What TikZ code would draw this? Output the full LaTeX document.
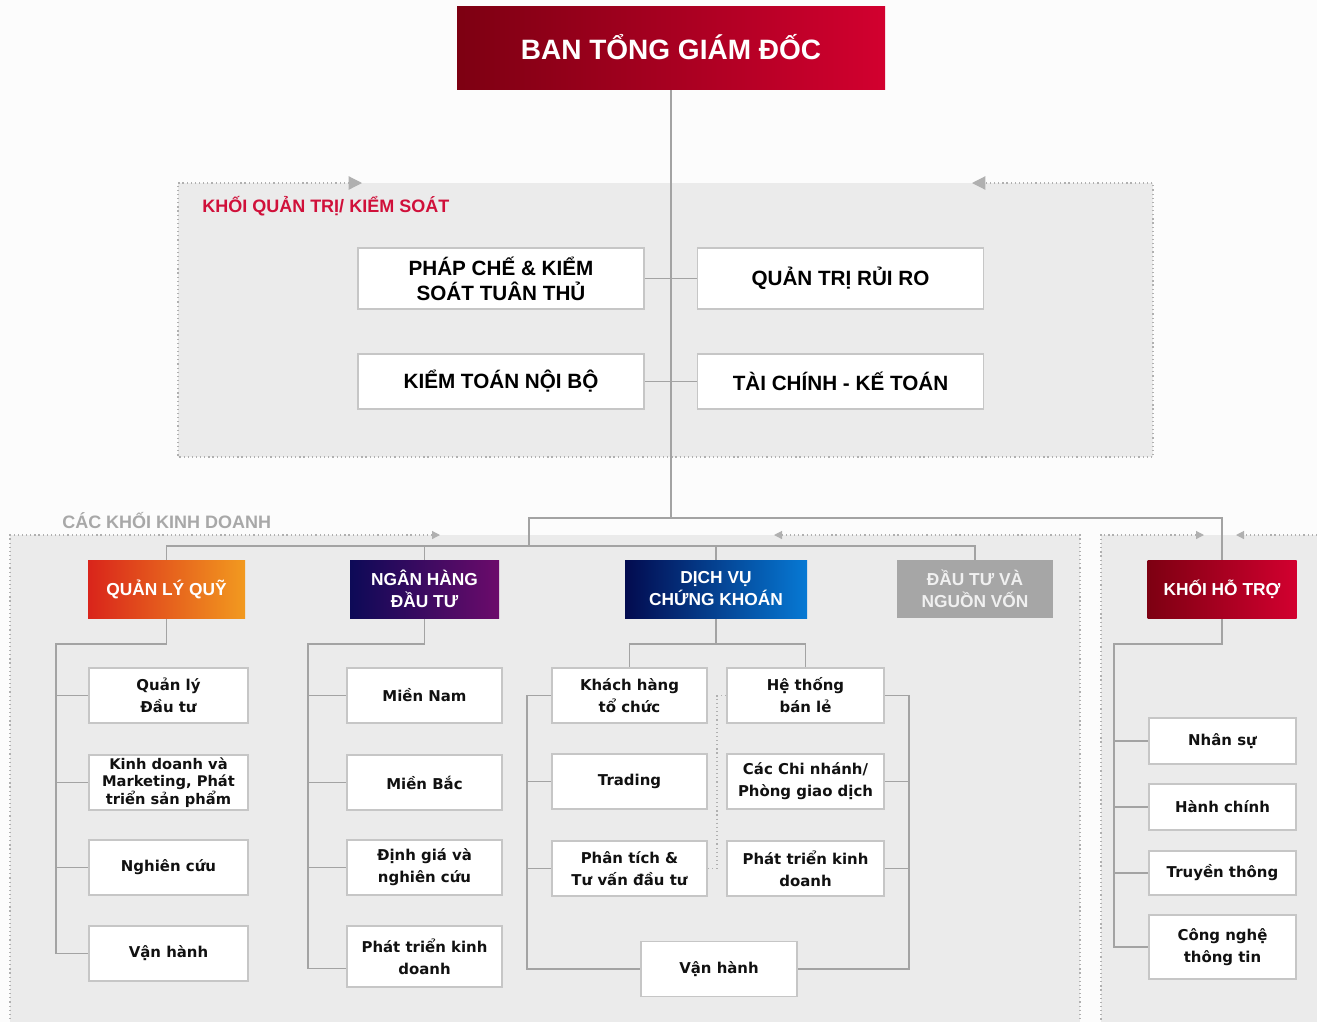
\documentclass[tikz,border=0pt]{standalone}
\usepackage{fontspec}
\setmainfont{Liberation Sans}
\newfontfamily\unitfont{DejaVu Sans}
\usepackage{xcolor}
\usepackage{tikz}
\usetikzlibrary{arrows.meta, calc, backgrounds}
\definecolor{pagebg}{HTML}{FCFCFC}
\definecolor{panelgrey}{HTML}{EBEBEB}
\definecolor{dotgrey}{HTML}{B0B0B0}
\definecolor{linkgrey}{HTML}{A3A3A3}
\definecolor{boxgrey}{HTML}{C6C6C6}
\definecolor{darkred}{HTML}{7D0012}
\definecolor{brightred}{HTML}{D2002F}
\definecolor{labelred}{HTML}{D0103A}
\definecolor{labelgrey}{HTML}{A8A8A8}
\definecolor{fundred}{HTML}{D9241B}
\definecolor{fundorange}{HTML}{F29A1F}
\definecolor{ibnavy}{HTML}{0D0A57}
\definecolor{ibpurple}{HTML}{6C0B6B}
\definecolor{secnavy}{HTML}{030B4F}
\definecolor{secblue}{HTML}{0679D4}
\definecolor{capgrey}{HTML}{A6A6A6}
\definecolor{unittext}{HTML}{111111}
\tikzset{
    bigtip/.tip={Triangle[length=10pt, width=10pt]},
    smalltip/.tip={Triangle[length=6pt, width=6pt]},
    dotline/.style={draw=dotgrey, line width=0.9pt, dash pattern=on 0.9pt off 2.2pt},
    link/.style={draw=linkgrey, line width=1.3pt},
    topbox/.style={rectangle, inner sep=0pt, align=center, text=white, font=\bfseries\fontsize{21}{25}\selectfont},
    panellabel/.style={inner sep=0pt, anchor=west, font=\bfseries\fontsize{13.5}{16}\selectfont},
    headbox/.style={rectangle, inner sep=0pt, minimum height=43.5pt, align=center, text=white, font=\bfseries\fontsize{13}{16.5}\selectfont},
    govbox/.style={rectangle, draw=boxgrey, line width=1.2pt, fill=white, minimum width=214.5pt, inner sep=0pt, align=center, font=\bfseries\fontsize{15.5}{18.75}\selectfont},
    unitbox/.style={rectangle, draw=boxgrey, line width=1.2pt, fill=white, minimum height=41.25pt, inner sep=0pt, align=center, text=unittext, font=\unitfont\bfseries\fontsize{11.2}{16.5}\selectfont}
}
\begin{document}
\begin{tikzpicture}[x=0.75pt, y=-0.75pt]
  \useasboundingbox (0,0) rectangle (1317,1022);

  % top and governance block
  \node[topbox, left color=darkred, right color=brightred, minimum width=321pt, minimum height=62.25pt] (ceo) at (671,47.5) {BAN TỔNG GIÁM ĐỐC};
  \node[panellabel, text=labelred] (govlabel) at (202,206) {KHỐI QUẢN TRỊ/ KIỂM SOÁT};
  \node[govbox, minimum height=45.75pt] (phapche) at (501,278.5) {PHÁP CHẾ \& KIỂM\\SOÁT TUÂN THỦ};
  \node[govbox, minimum height=45.75pt] (ruiro) at (840.5,278.5) {QUẢN TRỊ RỦI RO};
  \node[govbox, minimum height=41.25pt] (kiemtoan) at (501,381.5) {KIỂM TOÁN NỘI BỘ};
  \node[govbox, minimum height=41.25pt] (taichinh) at (840.5,381.5) {TÀI CHÍNH - KẾ TOÁN};

  % business heads
  \node[panellabel, text=labelgrey] (bizlabel) at (62,521) {CÁC KHỐI KINH DOANH};
  \node[headbox, left color=fundred, right color=fundorange, minimum width=117.75pt] (quy) at (166.5,589) {QUẢN LÝ QUỸ};
  \node[headbox, left color=ibnavy, right color=ibpurple, minimum width=111.75pt] (nhdt) at (424.5,589) {NGÂN HÀNG\\ĐẦU TƯ};
  \node[headbox, left color=secnavy, right color=secblue, minimum width=136.5pt] (dvck) at (716,589) {DỊCH VỤ\\CHỨNG KHOÁN};
  \node[headbox, fill=capgrey, text=white!94!black, minimum width=117pt] (nguonvon) at (975,589) {ĐẦU TƯ VÀ\\NGUỒN VỐN};
  \node[headbox, left color=darkred, right color=brightred, minimum width=111.75pt] (hotro) at (1222,589) {KHỐI HỖ TRỢ};

  % fund management
  \node[unitbox, minimum width=119.25pt] (quy1) at (168.5,695.5) {Quản lý\\Đầu tư};
  \node[unitbox, minimum width=119.25pt, font=\unitfont\bfseries\fontsize{11}{12.4}\selectfont] (quy2) at (168.5,782.5) {Kinh doanh và\\Marketing, Phát\\triển sản phẩm};
  \node[unitbox, minimum width=119.25pt] (quy3) at (168.5,867.5) {Nghiên cứu};
  \node[unitbox, minimum width=119.25pt] (quy4) at (168.5,953.5) {Vận hành};

  % investment banking
  \node[unitbox, minimum width=116.25pt] (nh1) at (424.5,695.5) {Miền Nam};
  \node[unitbox, minimum width=116.25pt] (nh2) at (424.5,782.5) {Miền Bắc};
  \node[unitbox, minimum width=116.25pt] (nh3) at (424.5,867.5) {Định giá và\\nghiên cứu};
  \node[unitbox, minimum width=116.25pt, minimum height=45.75pt] (nh4) at (424.5,956.5) {Phát triển kinh\\doanh};

  % securities services
  \node[unitbox, minimum width=116.25pt] (khachhang) at (629.5,695.5) {Khách hàng\\tổ chức};
  \node[unitbox, minimum width=116.25pt] (trading) at (629.5,781.5) {Trading};
  \node[unitbox, minimum width=116.25pt] (phantich) at (629.5,868.5) {Phân tích \&\\Tư vấn đầu tư};
  \node[unitbox, minimum width=117.75pt] (banle) at (805.5,695.5) {Hệ thống\\bán lẻ};
  \node[unitbox, minimum width=117.75pt] (chinhanh) at (805.5,781.5) {Các Chi nhánh/\\Phòng giao dịch};
  \node[unitbox, minimum width=117.75pt] (ptkd) at (805.5,868.5) {Phát triển kinh\\doanh};
  \node[unitbox, minimum width=117pt] (vanhanh) at (719,969) {Vận hành};

  % support
  \node[unitbox, minimum width=110.25pt, minimum height=34.5pt] (nhansu) at (1222.5,741) {Nhân sự};
  \node[unitbox, minimum width=110.25pt, minimum height=34.5pt] (hanhchinh) at (1222.5,807) {Hành chính};
  \node[unitbox, minimum width=110.25pt, minimum height=33pt] (truyenthong) at (1222.5,873) {Truyền thông};
  \node[unitbox, minimum width=110.25pt, minimum height=48pt] (congnghe) at (1222.5,947) {Công nghệ\\thông tin};

  \begin{pgfonlayer}{background}
    \fill[pagebg] (0,0) rectangle (1317,1022);
    \fill[panelgrey] (178,183) rectangle (1153,457);
    \fill[panelgrey] (10,535) rectangle (1080,1022);
    \fill[panelgrey] (1101,535) rectangle (1317,1022);

    % dotted frames
    \draw[dotline, {bigtip}-{bigtip}] (362,183) -- (178,183) -- (178,457) -- (1153,457) -- (1153,183) -- (972,183);
    \draw[dotline, {smalltip}-] (440,535) -- (10,535) -- (10,1022);
    \draw[dotline, {smalltip}-] (774,535) -- (1080,535) -- (1080,1022);
    \draw[dotline, {smalltip}-] (1204,535) -- (1101,535) -- (1101,1022);
    \draw[dotline, -{smalltip}] (1317,535) -- (1236,535);

    % connectors
    \coordinate (fork) at (671,518);
    \coordinate (bizfork) at (529,546);
    \draw[link] (ceo.south) -- (fork);
    \draw[link] (phapche) -- (ruiro);
    \draw[link] (kiemtoan) -- (taichinh);
    \draw[link] (bizfork) |- (fork) -| (hotro.north);
    \draw[link] (quy.north) |- (bizfork) -| (nguonvon.north);
    \draw[link] (nhdt.north) -- (nhdt.north |- bizfork);
    \draw[link] (dvck.north) -- (dvck.north |- bizfork);

    \coordinate (quybar) at (56,644);
    \draw[link] (quy.south) |- (quybar) |- (quy4.west);
    \foreach \u in {quy1,quy2,quy3}
      \draw[link] (\u.west) -- (\u.west -| quybar);

    \coordinate (nhbar) at (308,644);
    \draw[link] (nhdt.south) |- (nhbar) |- ([yshift=-9pt]nh4.west);
    \foreach \u in {nh1,nh2,nh3}
      \draw[link] (\u.west) -- (\u.west -| nhbar);

    \coordinate (dvbar) at (716,644);
    \coordinate (dvleft) at (527,969);
    \coordinate (dvright) at (909,969);
    \draw[link] (dvck.south) -- (dvbar);
    \draw[link] (khachhang.north) |- (dvbar) -| (banle.north);
    \draw[link] (khachhang.west) -| (dvleft) -- (vanhanh.west);
    \draw[link] (banle.east) -| (dvright) -- (vanhanh.east);
    \foreach \u in {trading,phantich}
      \draw[link] (\u.west) -- (\u.west -| dvleft);
    \foreach \u in {chinhanh,ptkd}
      \draw[link] (\u.east) -- (\u.east -| dvright);
    \draw[dotline] (banle.west) -| ($(banle.west)!.5!(phantich.east)$) |- (phantich.east);

    \coordinate (htbar) at (1114,644);
    \draw[link] (hotro.south) |- (htbar) |- (congnghe.west);
    \foreach \u in {nhansu,hanhchinh,truyenthong}
      \draw[link] (\u.west) -- (\u.west -| htbar);
  \end{pgfonlayer}
\end{tikzpicture}
\end{document}
